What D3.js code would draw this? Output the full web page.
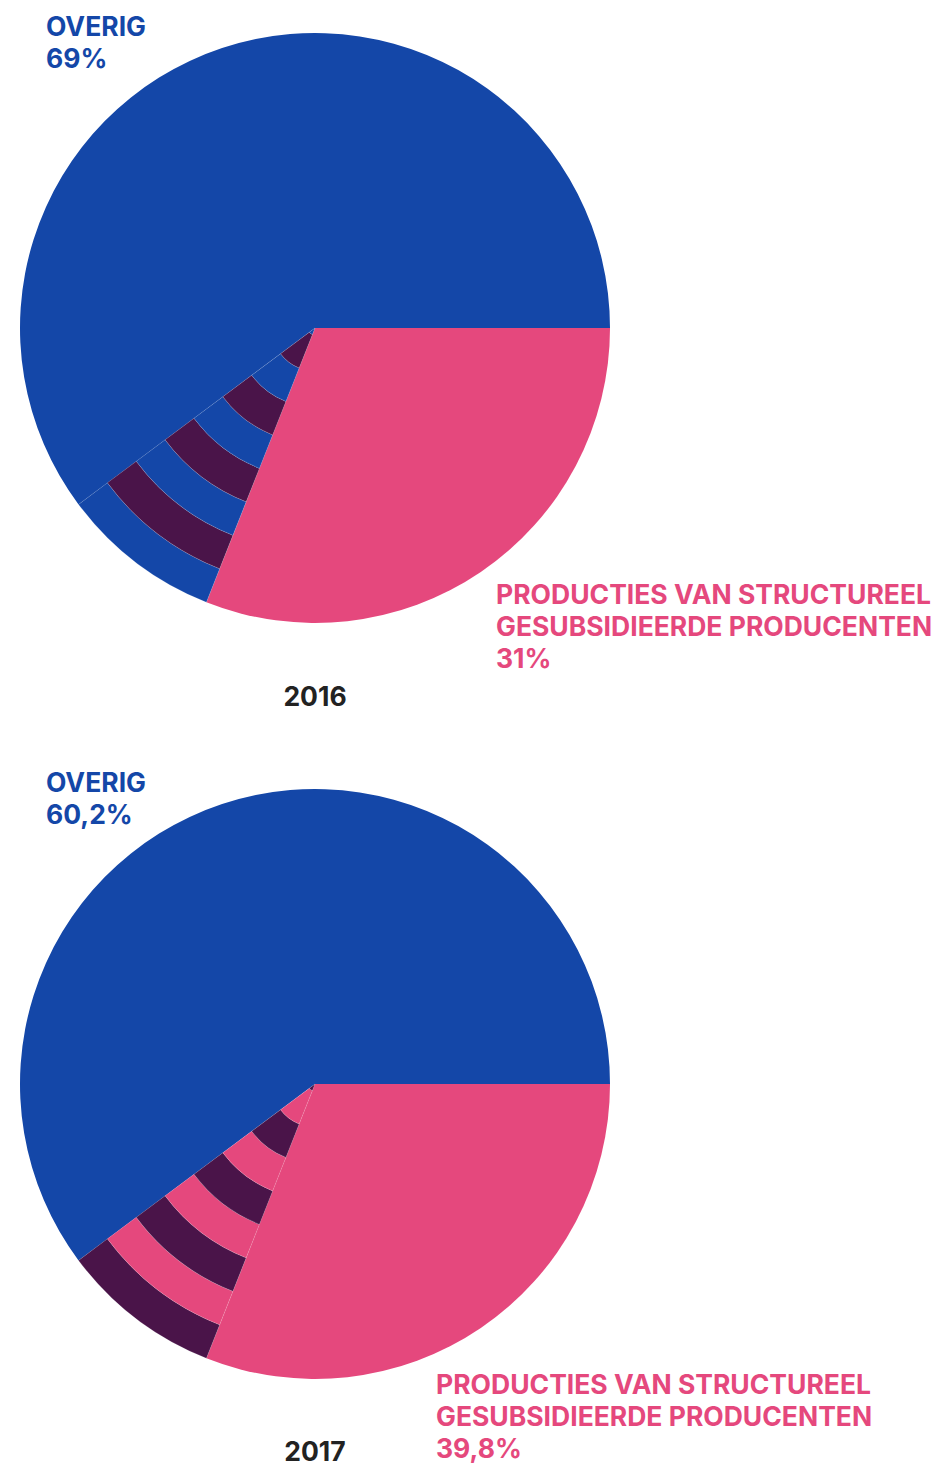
<!DOCTYPE html>
<html>
<head>
<meta charset="utf-8">
<script src="https://cdn.jsdelivr.net/npm/d3@7"></script>
<style>
  body { margin: 0; background: #fff; }
  text { font-family: Inter, "Noto Sans", sans-serif; font-weight: 700; }
</style>
</head>
<body>
<div id="chart"></div>
<script>
// data
var years = ["2016", "2017"];
var sliceKeys = ["structureel", "extra", "overig"];
var values2016 = [31, 8.8, 60.2];
var values2017 = [31, 8.8, 60.2];
var overigLabels = ["69%", "60,2%"];
var producentenLabels = ["31%", "39,8%"];
// which colours the striped wedge alternates between, outer ring first
var stripeKeys = [["overig", "stripe"], ["stripe", "structureel"]];

var colors = { structureel: "#e5487d", overig: "#1447a8", stripe: "#4a1449" };

var width = 939, height = 1467;
var radius = 295, bandWidth = 36;
var fontSize = 26.5;

var svg = d3.select("#chart").append("svg")
    .attr("width", width)
    .attr("height", height);

var pie = d3.pie()
    .sort(null)
    .startAngle(Math.PI / 2)
    .endAngle(Math.PI / 2 + 2 * Math.PI);

var arc = d3.arc().innerRadius(0).outerRadius(radius);

var charts = [
    { year: years[0], values: values2016, cy: 328, overig: overigLabels[0], prod: producentenLabels[0],
      stripes: stripeKeys[0], prodX: 496, prodY: 604, yearY: 706, overigY: 36 },
    { year: years[1], values: values2017, cy: 1084, overig: overigLabels[1], prod: producentenLabels[1],
      stripes: stripeKeys[1], prodX: 436, prodY: 1394, yearY: 1461, overigY: 792 }
];

charts.forEach(function(c) {
    var g = svg.append("g").attr("transform", "translate(315," + c.cy + ")");
    var slices = pie(c.values);

    g.selectAll("path.slice")
        .data(slices.filter(function(d, i) { return sliceKeys[i] != "extra"; }))
        .enter()
        .append("path")
        .attr("class", "slice")
        .attr("d", arc)
        .attr("fill", function(d) { return colors[sliceKeys[d.index]]; });

    // the striped wedge: concentric rings counted from the rim inward
    var wedge = slices[1];
    var rings = [];
    for (var k = 0; radius - k * bandWidth > 0; k++) {
        rings.push({
            outer: radius - k * bandWidth,
            inner: Math.max(0, radius - (k + 1) * bandWidth),
            key: c.stripes[k % 2]
        });
    }
    g.selectAll("path.ring")
        .data(rings)
        .enter()
        .append("path")
        .attr("class", "ring")
        .attr("d", function(r) {
            return d3.arc()
                .innerRadius(r.inner)
                .outerRadius(r.outer)
                .startAngle(wedge.startAngle)
                .endAngle(wedge.endAngle)();
        })
        .attr("fill", function(r) { return colors[r.key]; })
        .attr("stroke", "rgba(255,255,255,0.22)")
        .attr("stroke-width", 0.6);

    // labels
    svg.append("text")
        .attr("x", 46).attr("y", c.overigY)
        .attr("fill", colors.overig)
        .attr("font-size", fontSize)
        .selectAll("tspan")
        .data(["OVERIG", c.overig])
        .enter().append("tspan")
        .attr("x", 46)
        .attr("dy", function(d, i) { return i ? 32 : 0; })
        .text(function(d) { return d; });

    svg.append("text")
        .attr("x", c.prodX).attr("y", c.prodY)
        .attr("fill", colors.structureel)
        .attr("font-size", fontSize)
        .selectAll("tspan")
        .data(["PRODUCTIES VAN STRUCTUREEL", "GESUBSIDIEERDE PRODUCENTEN", c.prod])
        .enter().append("tspan")
        .attr("x", c.prodX)
        .attr("dy", function(d, i) { return i ? 32 : 0; })
        .text(function(d) { return d; });

    svg.append("text")
        .attr("x", 315).attr("y", c.yearY)
        .attr("text-anchor", "middle")
        .attr("fill", "#222")
        .attr("font-size", fontSize)
        .text(c.year);
});
</script>
</body>
</html>
